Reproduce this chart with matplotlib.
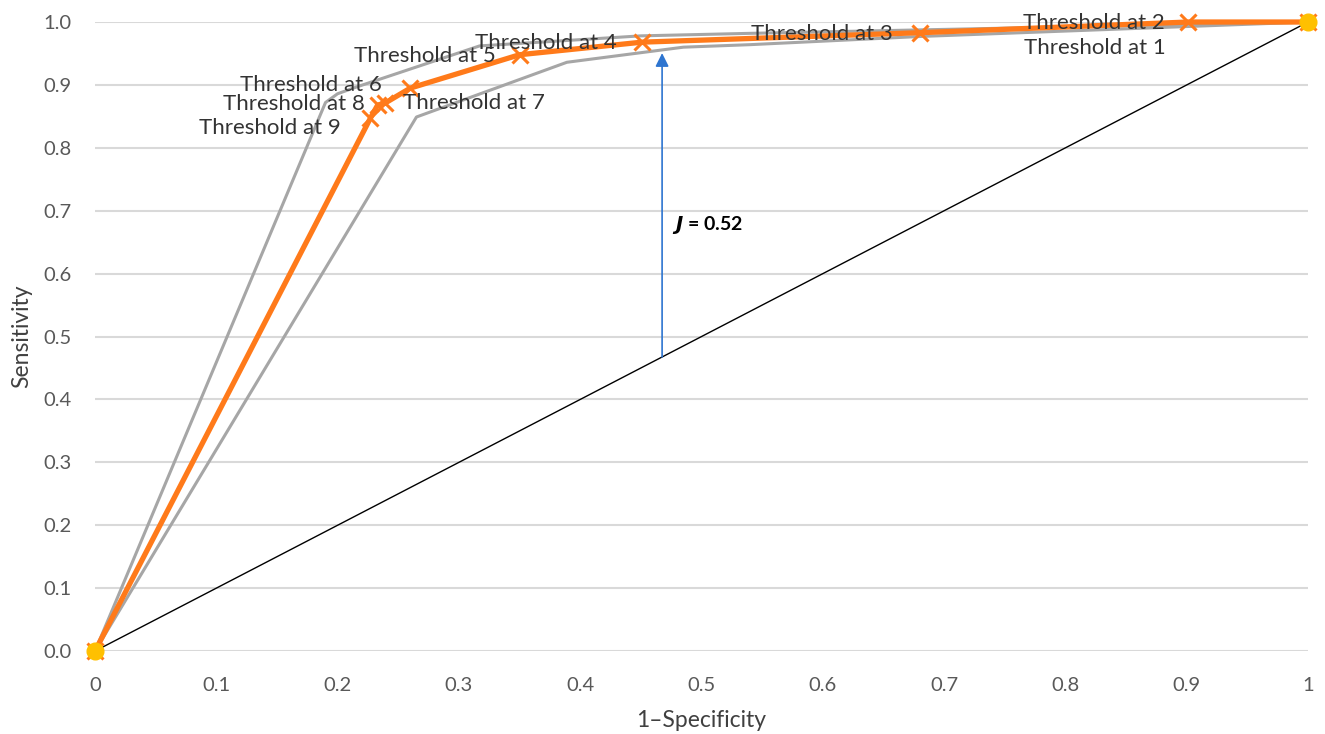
import matplotlib.pyplot as plt

# ROC curve points, ordered from the origin (threshold 9) up to threshold 1
fpr = [0.0, 0.227, 0.233, 0.239, 0.260, 0.350, 0.451, 0.680, 0.901, 1.0]
tpr = [0.0, 0.847, 0.868, 0.871, 0.895, 0.948, 0.968, 0.983, 1.0, 1.0]
point_labels = ['', 'Threshold at 9', 'Threshold at 8', 'Threshold at 7', 'Threshold at 6',
                'Threshold at 5', 'Threshold at 4', 'Threshold at 3', 'Threshold at 2', 'Threshold at 1']

# confidence bounds (gray)
upper_x = [0.0, 0.19, 0.20, 0.216, 0.317, 0.45, 0.54, 1.0]
upper_y = [0.0, 0.872, 0.886, 0.897, 0.962, 0.978, 0.982, 1.0]
lower_x = [0.0, 0.265, 0.389, 0.485, 0.54, 0.68, 1.0]
lower_y = [0.0, 0.849, 0.936, 0.960, 0.964, 0.977, 1.0]

# Youden index
j_x = 0.4675
j_low = 0.463
j_high = 0.955
j_text = r'$\bfit{J}$ = 0.52'

x_ticks = [0, 0.1, 0.2, 0.3, 0.4, 0.5, 0.6, 0.7, 0.8, 0.9, 1]
x_tick_labels = ['0', '0.1', '0.2', '0.3', '0.4', '0.5', '0.6', '0.7', '0.8', '0.9', '1']
y_ticks = [0.0, 0.1, 0.2, 0.3, 0.4, 0.5, 0.6, 0.7, 0.8, 0.9, 1.0]
y_tick_labels = ['%.1f' % v for v in y_ticks]

# label offsets in pixels (dx, dy, ha)
label_offsets = [None, (-30, -10, 'right'), (-13, 1, 'right'), (18, 0, 'left'), (-29, 3, 'right'),
                 (-24, -1, 'right'), (-25, -1, 'right'), (-27, -1, 'right'), (-23, -1, 'right'),
                 (-142, -26, 'right')]

plt.rcParams['font.family'] = ['Lato', 'DejaVu Sans']

fig = plt.figure(figsize=(13.25, 7.34), dpi=100)
ax = fig.add_axes([0.0717, 0.113, 0.9155, 0.857])

ax.set_xlim(0, 1)
ax.set_ylim(0, 1)
for s in ax.spines.values():
    s.set_visible(False)
ax.yaxis.grid(True, color='#D9D9D9', lw=1.5)
ax.set_axisbelow(True)

ax.plot([0, 1], [0, 1], color='black', lw=1, zorder=2)
ax.plot(upper_x, upper_y, color='#A6A6A6', lw=2.2, zorder=3)
ax.plot(lower_x, lower_y, color='#A6A6A6', lw=2.2, zorder=3)
ax.plot(fpr, tpr, color='#FF7A1A', lw=3.8, marker='x', ms=12, mew=2.2, zorder=4, clip_on=False)
ax.plot([fpr[0], fpr[-1]], [tpr[0], tpr[-1]], linestyle='none', marker='o', ms=12,
        color='#FFC000', zorder=5, clip_on=False)

ax.annotate('', xy=(j_x, j_high), xytext=(j_x, j_low),
            arrowprops=dict(arrowstyle='-|>', color='#2E75D0', lw=1.2, mutation_scale=20), zorder=3)
ax.text(j_x + 0.008, 0.677, j_text, fontsize=14, fontweight='bold', color='black',
        va='center', ha='left')

for x, y, lab, off in zip(fpr, tpr, point_labels, label_offsets):
    if not lab:
        continue
    dx, dy, ha = off
    ax.annotate(lab, (x, y), xytext=(dx * 0.72, dy * 0.72), textcoords='offset points',
                ha=ha, va='center', fontsize=16, color='#333333', zorder=6)

ax.set_xticks(x_ticks)
ax.set_xticklabels(x_tick_labels)
ax.set_yticks(y_ticks)
ax.set_yticklabels(y_tick_labels)
ax.tick_params(axis='both', length=0, labelsize=14.5, colors='#595959')
ax.tick_params(axis='x', pad=19)
ax.tick_params(axis='y', pad=17)

ax.set_xlabel('1\u2013Specificity', fontsize=16.5, color='#404040', labelpad=11)
ax.set_ylabel('Sensitivity', fontsize=16.5, color='#404040', labelpad=8)

fig.savefig('out.png', dpi=100)
